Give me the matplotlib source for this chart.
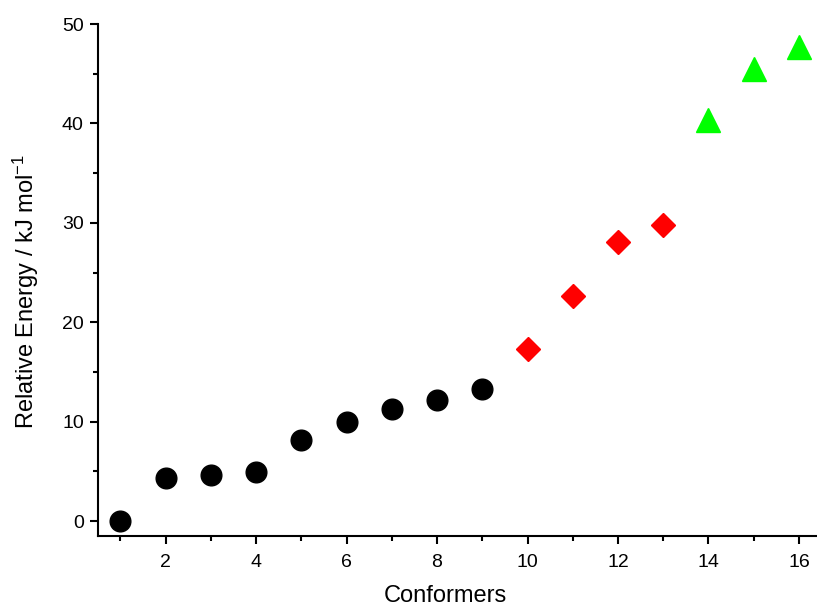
import matplotlib
matplotlib.use("Agg")
import matplotlib.pyplot as plt
from matplotlib.ticker import MultipleLocator

plt.rcParams['font.family'] = ['Liberation Sans', 'DejaVu Sans']
plt.rcParams['mathtext.default'] = 'regular'

# conformer energies, grouped by marker
conf_black = [1, 2, 3, 4, 5, 6, 7, 8, 9]
energy_black = [0.0, 4.35, 4.6, 4.95, 8.2, 9.95, 11.3, 12.2, 13.25]
conf_red = [10, 11, 12, 13]
energy_red = [17.3, 22.6, 28.1, 29.75]
conf_green = [14, 15, 16]
energy_green = [40.3, 45.5, 47.7]

fig = plt.figure(figsize=(8.17, 6.08), dpi=100)
ax = fig.add_axes([0.1196, 0.1184, 0.886, 0.842])

ax.plot(conf_black, energy_black, 'o', color='black', markersize=14.9, linestyle='none')
ax.plot(conf_red, energy_red, 'D', color='#ff0000', markersize=12.7, linestyle='none')
ax.plot(conf_green, energy_green, '^', color='#00ff00', markersize=17, linestyle='none')

ax.set_xlim(0.5, 16.5)
ax.set_ylim(-1.5, 50)
ax.xaxis.set_major_locator(MultipleLocator(2))
ax.xaxis.set_minor_locator(MultipleLocator(1))
ax.yaxis.set_major_locator(MultipleLocator(10))
ax.yaxis.set_minor_locator(MultipleLocator(5))

for s in ['top', 'right']:
    ax.spines[s].set_visible(False)
for s in ['left', 'bottom']:
    ax.spines[s].set_linewidth(1.5)

ax.tick_params(which='major', direction='out', length=6, width=1.5, labelsize=14)
ax.tick_params(which='minor', direction='out', length=3.5, width=1.5)
ax.tick_params(axis='x', which='major', pad=7)
ax.tick_params(axis='y', which='major', pad=4)

# axis titles placed by hand to match the original layout
fig.text(445 / 817, 1 - 596 / 608, 'Conformers', fontsize=17, ha='center', va='center')
fig.text(26 / 817, 1 - 292 / 608, 'Relative Energy / kJ mol$^{-1}$', fontsize=17,
         rotation=90, ha='center', va='center')

fig.savefig('out.png', dpi=100)
